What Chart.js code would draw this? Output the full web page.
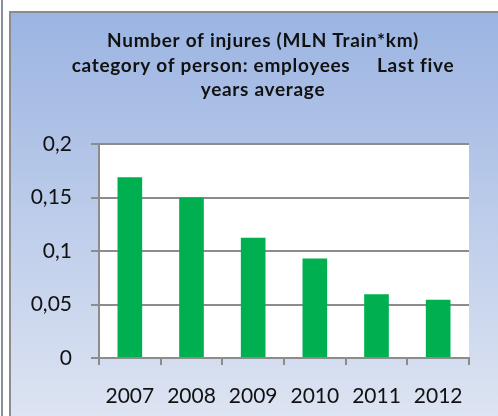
<!DOCTYPE html>
<html>
<head>
<meta charset="utf-8">
<script src="https://cdn.jsdelivr.net/npm/chart.js@4"></script>
<style>
  html, body { margin: 0; padding: 0; background: #fff; }
  #wrap { width: 498px; height: 416px; }
</style>
</head>
<body>
<div id="wrap"><canvas id="injuryChart" width="498" height="416"></canvas></div>
<script>
const years = ['2007', '2008', '2009', '2010', '2011', '2012'];
const injuryRates = [0.169, 0.150, 0.1125, 0.093, 0.0595, 0.0545];
const yTicks = [0, 0.05, 0.1, 0.15, 0.2];
const titleLines = [
    'Number of injures (MLN Train*km)',
    'category of person: employees     Last five',
    'years average'
];

// framed gradient panel behind the chart, white plot area
const panelBackground = {
    id: 'panelBackground',
    beforeDraw(chart) {
        const ctx = chart.ctx;
        const w = chart.width, h = chart.height;
        ctx.save();
        ctx.fillStyle = '#ffffff';
        ctx.fillRect(0, 0, w, h);

        // thin rule at the far left
        ctx.fillStyle = '#8a8f9c';
        ctx.fillRect(1, 0, 2, h);

        // panel frame
        ctx.fillStyle = '#8c8c8c';
        ctx.fillRect(9, 11, w - 9, 2);
        ctx.fillRect(9, 11, 2, h - 11);

        const grad = ctx.createLinearGradient(0, 13, 0, h);
        grad.addColorStop(0, '#9bb4e2');
        grad.addColorStop(1, '#dde4f2');
        ctx.fillStyle = grad;
        ctx.fillRect(11, 13, w - 11, h - 13);

        const a = chart.chartArea;
        ctx.fillStyle = '#ffffff';
        ctx.fillRect(a.left, a.top, a.right - a.left, a.bottom - a.top);
        ctx.restore();
    }
};

// three-line bold heading, centred a little right of the canvas middle
const headingText = {
    id: 'headingText',
    afterDraw(chart) {
        const ctx = chart.ctx;
        ctx.save();
        ctx.font = 'bold 19px Lato';
        ctx.letterSpacing = '0.7px';
        ctx.fillStyle = '#111111';
        ctx.textAlign = 'center';
        ctx.textBaseline = 'middle';
        titleLines.forEach((line, i) => {
            ctx.fillText(line, 263, 41 + i * 24.5);
        });
        ctx.restore();
    }
};

const ctx = document.getElementById('injuryChart').getContext('2d');
new Chart(ctx, {
    type: 'bar',
    data: {
        labels: years,
        datasets: [{
            data: injuryRates,
            backgroundColor: '#00b050',
            borderWidth: 0,
            barPercentage: 0.4,
            categoryPercentage: 1.0
        }]
    },
    options: {
        responsive: false,
        animation: false,
        layout: { padding: { left: 0, right: 29, top: 144, bottom: 0 } },
        plugins: {
            legend: { display: false },
            tooltip: { enabled: false },
            title: { display: false }
        },
        scales: {
            x: {
                grid: {
                    offset: true,
                    drawOnChartArea: false,
                    color: '#8c8c8c',
                    lineWidth: 2,
                    tickLength: 7
                },
                border: { color: '#8c8c8c', width: 2 },
                ticks: {
                    color: '#111111',
                    font: { family: 'Lato', size: 21 },
                    padding: 19
                },
                afterFit(scale) { scale.height = 58; }
            },
            y: {
                min: 0,
                max: 0.2,
                afterBuildTicks(scale) {
                    scale.ticks = yTicks.map(v => ({ value: v }));
                },
                grid: {
                    color: '#8c8c8c',
                    lineWidth: 2,
                    tickLength: 8
                },
                border: { color: '#8c8c8c', width: 2 },
                ticks: {
                    color: '#111111',
                    font: { family: 'Lato', size: 21 },
                    padding: 19,
                    callback: v => String(v).replace('.', ',')
                },
                afterFit(scale) { scale.width = 99; }
            }
        }
    },
    plugins: [panelBackground, headingText]
});
</script>
</body>
</html>
